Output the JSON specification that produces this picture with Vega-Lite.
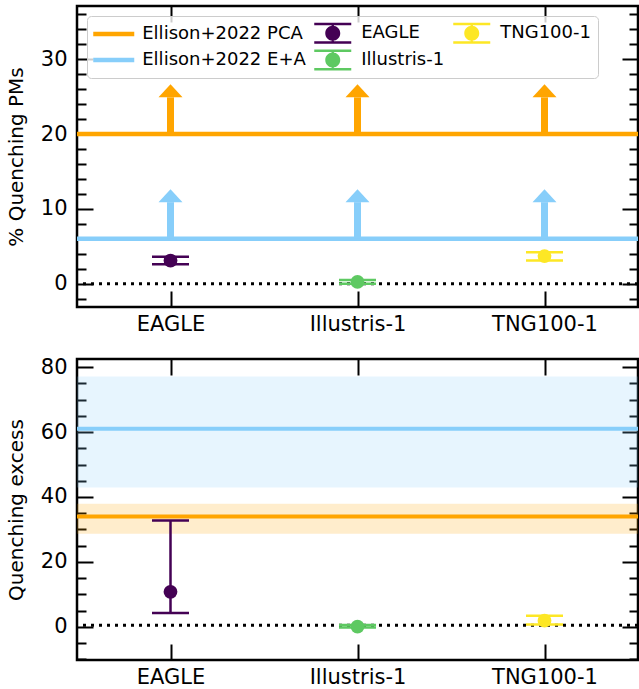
{
  "$schema": "https://vega.github.io/schema/vega-lite/v6.json",
  "padding": {"left": 5, "top": 1, "right": 0, "bottom": 0},
  "config": {
    "font": "DejaVu Sans",
    "view": {"stroke": "black", "strokeWidth": 2.5},
    "axis": {"domain": false, "grid": false, "tickColor": "black", "tickWidth": 2, "labelColor": "black", "labelFontSize": 21, "titleFontSize": 20, "titleFontWeight": "normal", "titleColor": "black", "labelOverlap": false, "labelBound": false, "labelFlush": false}
  },
  "datasets": {
    "ellTop": [{"series": "Ellison+2022 PCA", "value": 20}, {"series": "Ellison+2022 E+A", "value": 6}],
    "arrows": [
      {"sim": "EAGLE", "series": "Ellison+2022 PCA", "base": 20, "head": 24.9},
      {"sim": "Illustris-1", "series": "Ellison+2022 PCA", "base": 20, "head": 24.9},
      {"sim": "TNG100-1", "series": "Ellison+2022 PCA", "base": 20, "head": 24.9},
      {"sim": "EAGLE", "series": "Ellison+2022 E+A", "base": 6, "head": 10.9},
      {"sim": "Illustris-1", "series": "Ellison+2022 E+A", "base": 6, "head": 10.9},
      {"sim": "TNG100-1", "series": "Ellison+2022 E+A", "base": 6, "head": 10.9}
    ],
    "simTop": [
      {"sim": "EAGLE", "series": "EAGLE", "value": 3.1, "lo": 2.6, "hi": 3.6},
      {"sim": "Illustris-1", "series": "Illustris-1", "value": 0.25, "lo": 0.0, "hi": 0.5},
      {"sim": "TNG100-1", "series": "TNG100-1", "value": 3.7, "lo": 3.1, "hi": 4.2}
    ],
    "ellBot": [
      {"series": "Ellison+2022 E+A", "value": 61, "lo": 42.9, "hi": 77.1},
      {"series": "Ellison+2022 PCA", "value": 34, "lo": 28.7, "hi": 37.9}
    ],
    "simBot": [
      {"sim": "EAGLE", "series": "EAGLE", "value": 10.8, "lo": 4.3, "hi": 32.8},
      {"sim": "Illustris-1", "series": "Illustris-1", "value": 0.1, "lo": -0.2, "hi": 0.6},
      {"sim": "TNG100-1", "series": "TNG100-1", "value": 1.9, "lo": 0.7, "hi": 3.4}
    ]
  },
  "resolve": {"scale": {"color": "independent", "shape": "independent", "fill": "independent"}, "legend": {"color": "independent", "shape": "independent", "fill": "independent"}},
  "spacing": 18,
  "vconcat": [
    {
      "width": 561,
      "height": 301,
      "resolve": {"axis": {"x": "independent", "y": "independent"}},
      "layer": [
        {
          "data": {"name": "ellTop"},
          "mark": {"type": "rule", "strokeWidth": 4.5},
          "encoding": {
            "y": {"field": "value", "type": "quantitative", "scale": {"domain": [-3.1, 37.1], "nice": false, "zero": false},
              "axis": {"orient": "left", "values": [-2,0,2,4,6,8,10,12,14,16,18,20,22,24,26,28,30,32,34,36], "labelExpr": "datum.value % 10 === 0 ? datum.label : ''", "tickSize": {"condition": {"test": "datum.value % 10 === 0", "value": -16}, "value": -9}, "labelPadding": 26, "titlePadding": 14, "title": "% Quenching PMs"}},
            "color": {"field": "series", "type": "nominal", "scale": {"domain": ["EAGLE", "Illustris-1", "TNG100-1", "Ellison+2022 PCA", "Ellison+2022 E+A"], "range": ["#440154", "#5ec962", "#fde725", "#ffa500", "#87cefa"]}, "legend": null}
          }
        },
        {
          "data": {"values": [{"value": 0}]},
          "mark": {"type": "rule", "color": "black", "strokeWidth": 3, "strokeDash": [3, 5]},
          "encoding": {
            "y": {"field": "value", "type": "quantitative", "scale": {"domain": [-3.1, 37.1], "nice": false, "zero": false},
              "axis": {"orient": "right", "values": [-2,0,2,4,6,8,10,12,14,16,18,20,22,24,26,28,30,32,34,36], "labels": false, "tickSize": {"condition": {"test": "datum.value % 10 === 0", "value": -16}, "value": -9}, "title": null}}
          }
        },
        {
          "data": {"name": "arrows"},
          "mark": {"type": "rule", "strokeWidth": 7},
          "encoding": {
            "x": {"field": "sim", "type": "nominal", "scale": {"type": "point", "domain": ["EAGLE", "Illustris-1", "TNG100-1"], "padding": 0.5},
              "axis": {"orient": "top", "labels": false, "tickSize": -16, "title": null}},
            "y": {"field": "base", "type": "quantitative", "scale": {"domain": [-3.1, 37.1], "nice": false, "zero": false}, "axis": null},
            "y2": {"field": "head"},
            "color": {"field": "series", "type": "nominal", "legend": null}
          }
        },
        {
          "data": {"name": "arrows"},
          "mark": {"type": "point", "filled": true, "opacity": 1, "size": 400, "shape": "M-1.2,0L1.2,0L0,-1.3Z"},
          "encoding": {
            "x": {"field": "sim", "type": "nominal", "scale": {"type": "point", "domain": ["EAGLE", "Illustris-1", "TNG100-1"], "padding": 0.5}, "axis": null},
            "y": {"field": "head", "type": "quantitative", "scale": {"domain": [-3.1, 37.1], "nice": false, "zero": false}, "axis": null},
            "color": {"field": "series", "type": "nominal", "legend": null}
          }
        },
        {
          "data": {"name": "simTop"},
          "mark": {"type": "rule", "strokeWidth": 2.5},
          "encoding": {
            "x": {"field": "sim", "type": "nominal", "scale": {"type": "point", "domain": ["EAGLE", "Illustris-1", "TNG100-1"], "padding": 0.5},
              "axis": {"orient": "bottom", "labelAngle": 0, "tickSize": -16, "labelPadding": 22, "title": null}},
            "y": {"field": "lo", "type": "quantitative", "scale": {"domain": [-3.1, 37.1], "nice": false, "zero": false}, "axis": null},
            "y2": {"field": "hi"},
            "color": {"field": "series", "type": "nominal", "legend": null}
          }
        },
        {
          "data": {"name": "simTop"},
          "mark": {"type": "tick", "orient": "horizontal", "size": 37, "thickness": 2.5, "opacity": 1},
          "encoding": {
            "x": {"field": "sim", "type": "nominal", "scale": {"type": "point", "domain": ["EAGLE", "Illustris-1", "TNG100-1"], "padding": 0.5}, "axis": null},
            "y": {"field": "lo", "type": "quantitative", "scale": {"domain": [-3.1, 37.1], "nice": false, "zero": false}, "axis": null},
            "color": {"field": "series", "type": "nominal", "legend": null}
          }
        },
        {
          "data": {"name": "simTop"},
          "mark": {"type": "tick", "orient": "horizontal", "size": 37, "thickness": 2.5, "opacity": 1},
          "encoding": {
            "x": {"field": "sim", "type": "nominal", "scale": {"type": "point", "domain": ["EAGLE", "Illustris-1", "TNG100-1"], "padding": 0.5}, "axis": null},
            "y": {"field": "hi", "type": "quantitative", "scale": {"domain": [-3.1, 37.1], "nice": false, "zero": false}, "axis": null},
            "color": {"field": "series", "type": "nominal", "legend": null}
          }
        },
        {
          "data": {"name": "simTop"},
          "mark": {"type": "point", "filled": true, "opacity": 1, "size": 190, "shape": "circle"},
          "encoding": {
            "x": {"field": "sim", "type": "nominal", "scale": {"type": "point", "domain": ["EAGLE", "Illustris-1", "TNG100-1"], "padding": 0.5}, "axis": null},
            "y": {"field": "value", "type": "quantitative", "scale": {"domain": [-3.1, 37.1], "nice": false, "zero": false}, "axis": null},
            "color": {"field": "series", "type": "nominal", "legend": null}
          }
        },
        {
          "data": {"values": []},
          "mark": {"type": "point", "filled": true},
          "encoding": {
            "x": {"field": "sim", "type": "nominal", "scale": {"type": "point", "domain": ["EAGLE", "Illustris-1", "TNG100-1"], "padding": 0.5}, "axis": null},
            "y": {"field": "value", "type": "quantitative", "scale": {"domain": [-3.1, 37.1], "nice": false, "zero": false}, "axis": null},
            "fill": {"field": "series", "type": "nominal",
              "scale": {"domain": ["Ellison+2022 PCA", "Ellison+2022 E+A", "EAGLE", "Illustris-1", "TNG100-1"], "range": ["#ffa500", "#87cefa", "#440154", "#5ec962", "#fde725"]},
              "legend": {"orient": "none", "legendX": 10, "legendY": 10, "columns": 3, "title": null, "labelFontSize": 18, "labelColor": "black", "symbolSize": 400, "symbolOffset": 9.75, "labelOffset": 18.5, "columnPadding": 7, "rowPadding": 5, "padding": 7, "fillColor": "rgba(255,255,255,0.8)", "strokeColor": "#cccccc", "cornerRadius": 4, "gridAlign": "each", "labelLimit": 300, "symbolStrokeWidth": 0, "symbolOpacity": 1}},
            "shape": {"field": "series", "type": "nominal",
              "scale": {"domain": ["Ellison+2022 PCA", "Ellison+2022 E+A", "EAGLE", "Illustris-1", "TNG100-1"],
                "range": [
                  "M-2.05,-0.22H2.05V0.22H-2.05Z",
                  "M-2.05,-0.22H2.05V0.22H-2.05Z",
                  "M-0.75,0A0.75,0.75 0 1,1 0.75,0A0.75,0.75 0 1,1 -0.75,0ZM-1.85,-1.05H1.85V-0.8H-1.85ZM-1.85,0.8H1.85V1.05H-1.85ZM-0.12,-0.92H0.12V0.92H-0.12Z",
                  "M-0.75,0A0.75,0.75 0 1,1 0.75,0A0.75,0.75 0 1,1 -0.75,0ZM-1.85,-1.05H1.85V-0.8H-1.85ZM-1.85,0.8H1.85V1.05H-1.85ZM-0.12,-0.92H0.12V0.92H-0.12Z",
                  "M-0.75,0A0.75,0.75 0 1,1 0.75,0A0.75,0.75 0 1,1 -0.75,0ZM-1.85,-1.05H1.85V-0.8H-1.85ZM-1.85,0.8H1.85V1.05H-1.85ZM-0.12,-0.92H0.12V0.92H-0.12Z"
                ]},
              "legend": {"orient": "none", "legendX": 10, "legendY": 10, "columns": 3, "title": null, "labelFontSize": 18, "labelColor": "black", "symbolSize": 400, "symbolOffset": 9.75, "labelOffset": 18.5, "columnPadding": 7, "rowPadding": 5, "padding": 7, "fillColor": "rgba(255,255,255,0.8)", "strokeColor": "#cccccc", "cornerRadius": 4, "gridAlign": "each", "labelLimit": 300, "symbolStrokeWidth": 0, "symbolOpacity": 1}}
          }
        }
      ]
    },
    {
      "width": 561,
      "height": 301,
      "resolve": {"axis": {"x": "independent", "y": "independent"}},
      "layer": [
        {
          "data": {"name": "ellBot"},
          "mark": {"type": "rect", "opacity": 0.2},
          "encoding": {
            "y": {"field": "lo", "type": "quantitative", "scale": {"domain": [-10.2, 82.5], "nice": false, "zero": false},
              "axis": {"orient": "left", "values": [-10,-5,0,5,10,15,20,25,30,35,40,45,50,55,60,65,70,75,80], "labelExpr": "datum.value % 20 === 0 ? datum.label : ''", "tickSize": {"condition": {"test": "datum.value % 20 === 0", "value": -16}, "value": -9}, "labelPadding": 26, "titlePadding": 14, "title": "Quenching excess"}},
            "y2": {"field": "hi"},
            "color": {"field": "series", "type": "nominal", "scale": {"domain": ["EAGLE", "Illustris-1", "TNG100-1", "Ellison+2022 PCA", "Ellison+2022 E+A"], "range": ["#440154", "#5ec962", "#fde725", "#ffa500", "#87cefa"]}, "legend": null}
          }
        },
        {
          "data": {"name": "ellBot"},
          "mark": {"type": "rule", "strokeWidth": 4},
          "encoding": {
            "y": {"field": "value", "type": "quantitative", "scale": {"domain": [-10.2, 82.5], "nice": false, "zero": false}, "axis": null},
            "color": {"field": "series", "type": "nominal", "legend": null}
          }
        },
        {
          "data": {"values": [{"value": 0.5}]},
          "mark": {"type": "rule", "color": "black", "strokeWidth": 3, "strokeDash": [3, 5]},
          "encoding": {
            "y": {"field": "value", "type": "quantitative", "scale": {"domain": [-10.2, 82.5], "nice": false, "zero": false},
              "axis": {"orient": "right", "values": [-10,-5,0,5,10,15,20,25,30,35,40,45,50,55,60,65,70,75,80], "labels": false, "tickSize": {"condition": {"test": "datum.value % 20 === 0", "value": -16}, "value": -9}, "title": null}}
          }
        },
        {
          "data": {"name": "simBot"},
          "mark": {"type": "rule", "strokeWidth": 2.5},
          "encoding": {
            "x": {"field": "sim", "type": "nominal", "scale": {"type": "point", "domain": ["EAGLE", "Illustris-1", "TNG100-1"], "padding": 0.5},
              "axis": {"orient": "bottom", "labelAngle": 0, "tickSize": -16, "labelPadding": 22, "title": null}},
            "y": {"field": "lo", "type": "quantitative", "scale": {"domain": [-10.2, 82.5], "nice": false, "zero": false}, "axis": null},
            "y2": {"field": "hi"},
            "color": {"field": "series", "type": "nominal", "legend": null}
          }
        },
        {
          "data": {"name": "simBot"},
          "mark": {"type": "tick", "orient": "horizontal", "size": 37, "thickness": 2.5, "opacity": 1},
          "encoding": {
            "x": {"field": "sim", "type": "nominal", "scale": {"type": "point", "domain": ["EAGLE", "Illustris-1", "TNG100-1"], "padding": 0.5},
              "axis": {"orient": "top", "labels": false, "tickSize": -16, "title": null}},
            "y": {"field": "lo", "type": "quantitative", "scale": {"domain": [-10.2, 82.5], "nice": false, "zero": false}, "axis": null},
            "color": {"field": "series", "type": "nominal", "legend": null}
          }
        },
        {
          "data": {"name": "simBot"},
          "mark": {"type": "tick", "orient": "horizontal", "size": 37, "thickness": 2.5, "opacity": 1},
          "encoding": {
            "x": {"field": "sim", "type": "nominal", "scale": {"type": "point", "domain": ["EAGLE", "Illustris-1", "TNG100-1"], "padding": 0.5}, "axis": null},
            "y": {"field": "hi", "type": "quantitative", "scale": {"domain": [-10.2, 82.5], "nice": false, "zero": false}, "axis": null},
            "color": {"field": "series", "type": "nominal", "legend": null}
          }
        },
        {
          "data": {"name": "simBot"},
          "mark": {"type": "point", "filled": true, "opacity": 1, "size": 190, "shape": "circle"},
          "encoding": {
            "x": {"field": "sim", "type": "nominal", "scale": {"type": "point", "domain": ["EAGLE", "Illustris-1", "TNG100-1"], "padding": 0.5}, "axis": null},
            "y": {"field": "value", "type": "quantitative", "scale": {"domain": [-10.2, 82.5], "nice": false, "zero": false}, "axis": null},
            "color": {"field": "series", "type": "nominal", "legend": null}
          }
        }
      ]
    }
  ]
}
